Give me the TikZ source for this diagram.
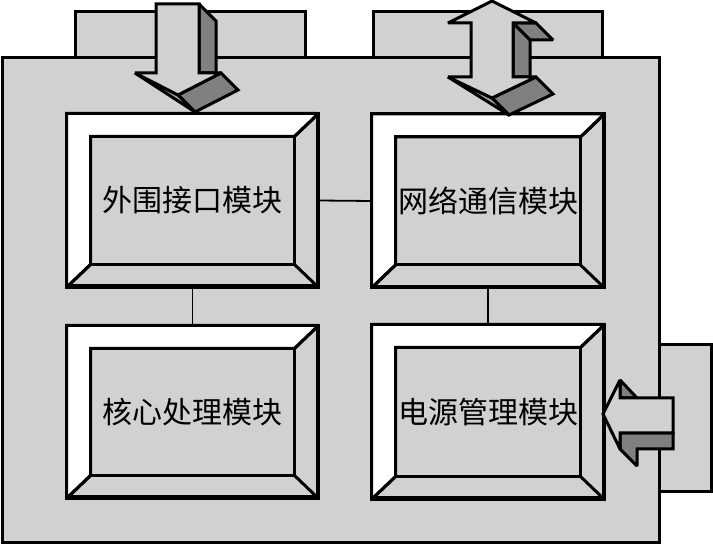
\documentclass[tikz,border=0pt]{standalone}
\usepackage{fontspec}
\newfontfamily\cjk{Noto Sans CJK SC}
\usetikzlibrary{calc}

\definecolor{panel}{gray}{0.82}
\definecolor{shade}{gray}{0.5}
\definecolor{halfshade}{gray}{0.64}

% bevelled frame round a module node
\newcommand{\bevel}[1]{%
	\filldraw[fill=white] (#1.north west) -- (#1.north east) -- ($(#1.north east)+(-24,23)$)
		-- ($(#1.north west)+(24,23)$) -- ($(#1.south west)+(24,-23)$) -- (#1.south west) -- cycle;
	\draw ($(#1.north west)+(24,23)$) rectangle ($(#1.south east)+(-24,-23)$);
	\draw ($(#1.north east)+(-24,23)$) -- (#1.north east);
	\draw ($(#1.south east)+(-24,-23)$) -- (#1.south east);
	\draw ($(#1.south west)+(24,-23)$) -- (#1.south west);
	\draw (#1.north west) rectangle (#1.south east);
}

\begin{document}
\begin{tikzpicture}[x=1pt, y=-1pt, line width=3pt, line join=miter, miter limit=2,
	module/.style={draw, fill=panel, inner sep=0pt, minimum width=249pt, minimum height=171pt},
	label/.style={font=\cjk\fontsize{30}{30}\selectfont},
	link/.style={line width=1.8pt}]
	\useasboundingbox (0,0) rectangle (713,545);
	% tabs and housing
	\filldraw[fill=panel] (75,12) rectangle (305,70);
	\filldraw[fill=panel] (373,12) rectangle (602,70);
	\filldraw[fill=panel] (640,345) rectangle (711,492);
	\filldraw[fill=panel] (2,58) rectangle (659,542);

	% modules
	\node[module] (peri) at (192.5,200.5) {};
	\node[module, minimum width=230pt] (net) at (488,201) {};
	\node[module, minimum height=170pt] (core) at (192.5,412) {};
	\node[module, minimum width=230pt, minimum height=172pt] (power) at (488,412) {};
	\bevel{peri}
	\bevel{net}
	\bevel{core}
	\bevel{power}
	\node[label] at (peri) {外围接口模块};
	\node[label] at (net) {网络通信模块};
	\node[label] at (core) {核心处理模块};
	\node[label] at (power) {电源管理模块};

	\draw[link] (peri.east) -- (net.west);
	\draw[link] (peri.south) -- (core.north);
	\draw[link] (net.south) -- (power.north);

	% input arrow
	\filldraw[fill=shade] (199,4) -- (216,21) -- (216,73) -- (199,73) -- cycle;
	\filldraw[fill=shade] (178,95) -- (221,73) -- (238,90) -- (195,112) -- cycle;
	\filldraw[fill=halfshade] (135,73) -- (178,95) -- (195,112) -- cycle;
	\filldraw[fill=panel] (156,4) -- (199,4) -- (199,73) -- (221,73) -- (178,95) -- (135,73) -- (156,73) -- cycle;

	% two-way arrow
	\filldraw[fill=shade] (513,23) -- (536,23) -- (553,40) -- (530,40) -- cycle;
	\filldraw[fill=shade] (513,23) -- (530,40) -- (530,77) -- (513,77) -- cycle;
	\filldraw[fill=shade] (492,98) -- (536,77) -- (553,94) -- (509,115) -- cycle;
	\filldraw[fill=halfshade] (448,77) -- (492,98) -- (509,115) -- cycle;
	\filldraw[fill=panel] (492,1) -- (536,23) -- (513,23) -- (513,77) -- (536,77) -- (492,98)
		-- (448,77) -- (471,77) -- (471,23) -- (448,23) -- cycle;

	% power arrow
	\filldraw[fill=shade] (620,380) -- (637,398) -- (620,398) -- cycle;
	\filldraw[fill=shade] (620,433) -- (673,433) -- (673,449) -- (637,449) -- (637,466) -- (620,449) -- cycle;
	\filldraw[fill=panel] (603,414) -- (620,380) -- (620,398) -- (673,398) -- (673,433) -- (620,433) -- (620,449) -- cycle;
\end{tikzpicture}
\end{document}
